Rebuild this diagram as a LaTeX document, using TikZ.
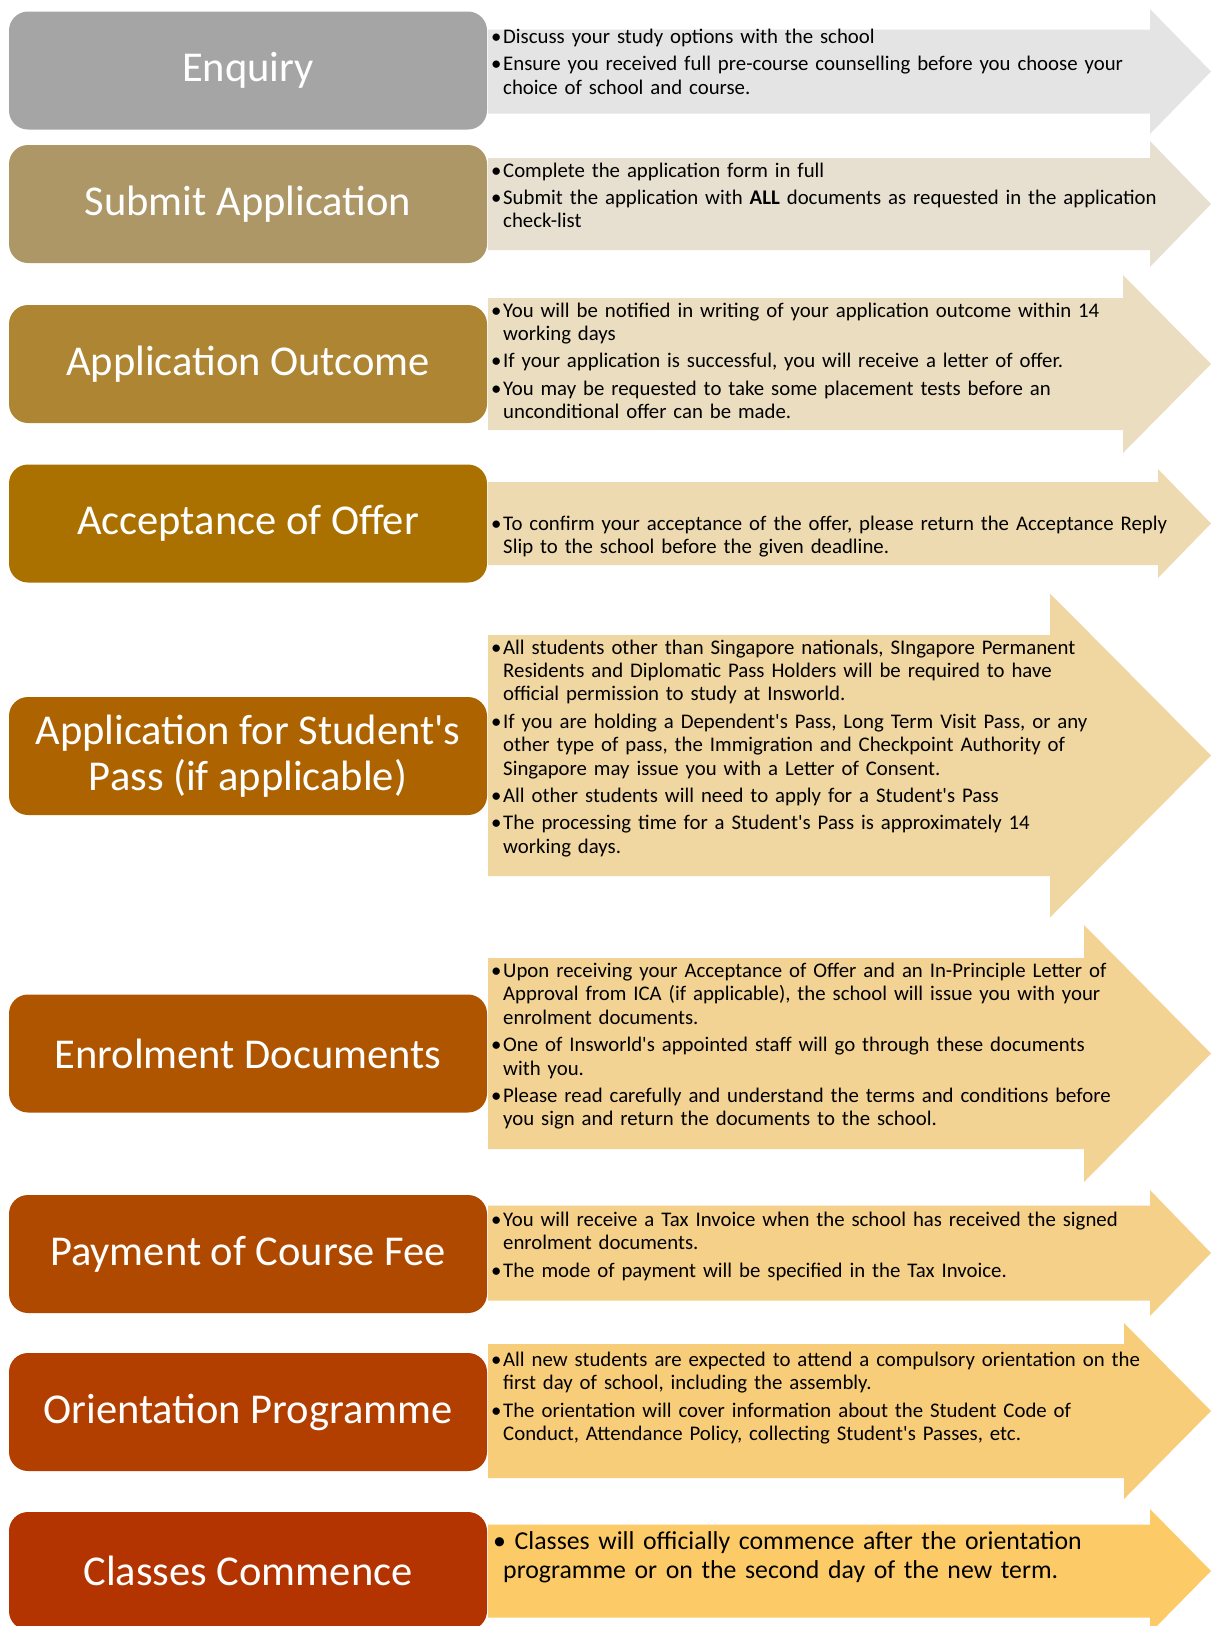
\documentclass[tikz,border=0pt]{standalone}
\usepackage{fontspec}
\setmainfont{Carlito}
\usepackage{xcolor}
\definecolor{StepGrey}{HTML}{A5A5A5}
\definecolor{StepTan}{HTML}{AD9767}
\definecolor{StepOchre}{HTML}{AE8532}
\definecolor{StepGold}{HTML}{AB7100}
\definecolor{StepAmber}{HTML}{AD6300}
\definecolor{StepCopper}{HTML}{AF5500}
\definecolor{StepRust}{HTML}{B04900}
\definecolor{StepBrick}{HTML}{B23E00}
\definecolor{StepRed}{HTML}{B33400}
\definecolor{PaleGrey}{HTML}{E4E4E4}
\definecolor{PaleTan}{HTML}{E7E0D1}
\definecolor{PaleOchre}{HTML}{EBDDC0}
\definecolor{PaleGold}{HTML}{EEDAB0}
\definecolor{PaleAmber}{HTML}{F0D6A1}
\definecolor{PaleCopper}{HTML}{F3D394}
\definecolor{PaleRust}{HTML}{F5D088}
\definecolor{PaleBrick}{HTML}{F8CD7A}
\definecolor{PaleRed}{HTML}{FCCB67}
\newcommand{\bl}{\makebox[12pt][l]{\textbullet}}
\newcommand{\hg}{\hspace*{12pt}}
\newcommand{\ap}{\textquotesingle}

\begin{document}
\begin{tikzpicture}[x=1pt,y=-1pt,
    stepbox/.style={rounded corners=19pt,minimum width=478pt,minimum height=118pt,
      inner sep=0pt,text=white,align=center,font=\fontsize{42.5}{45.6}\selectfont},
    steptext/.style={anchor=base west,inner sep=0pt,text width=720pt,align=left,
      font=\fontsize{20.8}{23.4}\selectfont}]
     \useasboundingbox (0,0) rectangle (1211,1626);

     % arrows
     \fill[PaleGrey] (488,29.5) -- (1150,29.5) -- (1150,9) -- (1211,71.5) -- (1150,134) -- (1150,113.5) -- (488,113.5) -- cycle;
     \fill[PaleTan] (488,158) -- (1150,158) -- (1150,141) -- (1211,204) -- (1150,267) -- (1150,250) -- (488,250) -- cycle;
     \fill[PaleOchre] (488,298) -- (1123,298) -- (1123,275) -- (1211,364) -- (1123,453) -- (1123,430) -- (488,430) -- cycle;
     \fill[PaleGold] (488,482) -- (1158,482) -- (1158,469) -- (1211,523.5) -- (1158,578) -- (1158,565) -- (488,565) -- cycle;
     \fill[PaleAmber] (488,635) -- (1050,635) -- (1050,593.5) -- (1211,755.5) -- (1050,917.5) -- (1050,876) -- (488,876) -- cycle;
     \fill[PaleCopper] (488,958) -- (1084,958) -- (1084,925) -- (1211,1053.5) -- (1084,1182) -- (1084,1149) -- (488,1149) -- cycle;
     \fill[PaleRust] (488,1205.5) -- (1150,1205.5) -- (1150,1190) -- (1211,1253) -- (1150,1316) -- (1150,1300.5) -- (488,1300.5) -- cycle;
     \fill[PaleBrick] (488,1344) -- (1124,1344) -- (1124,1323) -- (1211,1411) -- (1124,1499) -- (1124,1478) -- (488,1478) -- cycle;
     \fill[PaleRed] (488,1524.5) -- (1150,1524.5) -- (1150,1509) -- (1211,1571) -- (1150,1633) -- (1150,1617.5) -- (488,1617.5) -- cycle;

     % steps
     \node[stepbox,fill=StepGrey] (enquiry) at (248,70.5) {Enquiry};
     \node[stepbox,fill=StepTan] (submit) at (248,204) {Submit Application};
     \node[stepbox,fill=StepOchre] (outcome) at (248,364) {Application Outcome};
     \node[stepbox,fill=StepGold] (accept) at (248,523.5) {Acceptance of Offer};
     \node[stepbox,fill=StepAmber] (pass) at (248,756) {Application for Student\ap s\\Pass (if applicable)};
     \node[stepbox,fill=StepCopper] (enrol) at (248,1053.5) {Enrolment Documents};
     \node[stepbox,fill=StepRust] (payment) at (248,1254) {Payment of Course Fee};
     \node[stepbox,fill=StepBrick] (orient) at (248,1412) {Orientation Programme};
     \node[stepbox,fill=StepRed] (classes) at (248,1571) {Classes Commence};

     % notes
     \node[steptext] (enquiryTxt) at (491,43.3) {\bl Discuss your study options with the school\\[4pt]
       \bl Ensure you received full pre-course counselling before you choose your\\
       \hg choice of school and course.};
     \node[steptext] (submitTxt) at (491,177) {\bl Complete the application form in full\\[4pt]
       \bl Submit the application with \textbf{ALL} documents as requested in the application\\
       \hg check-list};
     \node[steptext] (outcomeTxt) at (491,317) {\bl You will be notified in writing of your application outcome within 14\\
       \hg working days\\[4pt]
       \bl If your application is successful, you will receive a letter of offer.\\[4pt]
       \bl You may be requested to take some placement tests before an\\
       \hg unconditional offer can be made.};
     \node[steptext] (acceptTxt) at (491,530.5) {\bl To confirm your acceptance of the offer, please return the Acceptance Reply\\
       \hg Slip to the school before the given deadline.};
     \node[steptext] (passTxt) at (491,654) {\bl All students other than Singapore nationals, SIngapore Permanent\\
       \hg Residents and Diplomatic Pass Holders will be required to have\\
       \hg official permission to study at Insworld.\\[4pt]
       \bl If you are holding a Dependent\ap s Pass, Long Term Visit Pass, or any\\
       \hg other type of pass, the Immigration and Checkpoint Authority of\\
       \hg Singapore may issue you with a Letter of Consent.\\[4pt]
       \bl All other students will need to apply for a Student\ap s Pass\\[4pt]
       \bl The processing time for a Student\ap s Pass is approximately 14\\
       \hg working days.};
     \node[steptext] (enrolTxt) at (491,977.5) {\bl Upon receiving your Acceptance of Offer and an In-Principle Letter of\\
       \hg Approval from ICA (if applicable), the school will issue you with your\\
       \hg enrolment documents.\\[4pt]
       \bl One of Insworld\ap s appointed staff will go through these documents\\
       \hg with you.\\[4pt]
       \bl Please read carefully and understand the terms and conditions before\\
       \hg you sign and return the documents to the school.};
     \node[steptext] (paymentTxt) at (491,1226.5) {\bl You will receive a Tax Invoice when the school has received the signed\\
       \hg enrolment documents.\\[4pt]
       \bl The mode of payment will be specified in the Tax Invoice.};
     \node[steptext] (orientTxt) at (491,1366.5) {\bl All new students are expected to attend a compulsory orientation on the\\
       \hg first day of school, including the assembly.\\[4pt]
       \bl The orientation will cover information about the Student Code of\\
       \hg Conduct, Attendance Policy, collecting Student\ap s Passes, etc.};
     \node[steptext,font=\fontsize{25.8}{29}\selectfont] (classesTxt) at (493,1549) {\textbullet\ Classes will officially commence after the orientation\\
       \hspace*{10pt}programme or on the second day of the new term.};
    \end{tikzpicture}
\end{document}
